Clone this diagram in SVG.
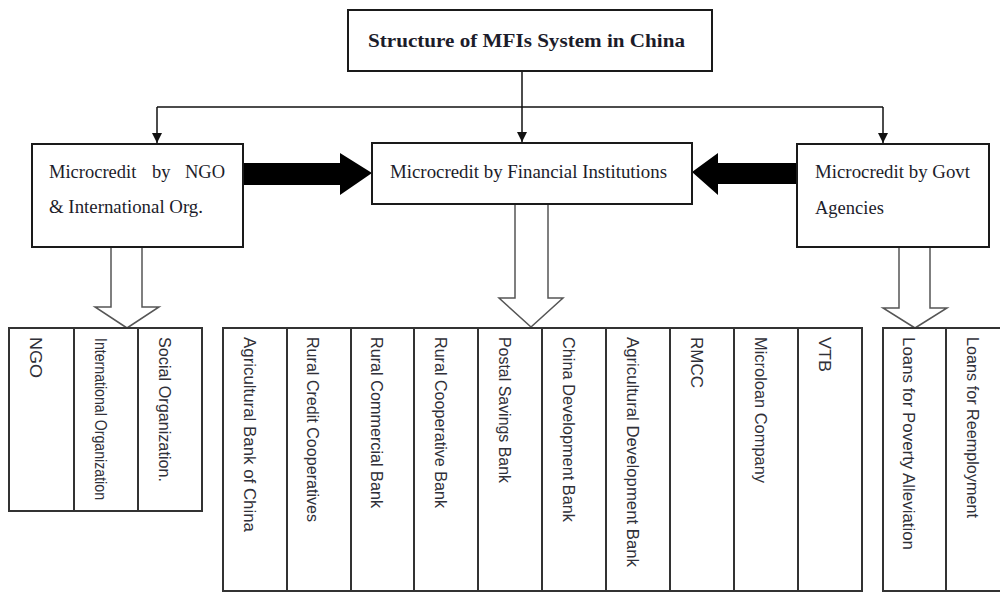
<svg xmlns="http://www.w3.org/2000/svg" width="1000" height="592" viewBox="0 0 1000 592">
<defs>
<marker id="ah" markerUnits="userSpaceOnUse" markerWidth="10" markerHeight="10" refX="10" refY="5" orient="auto" viewBox="0 0 10 10"><path d="M0,0 L10,5 L0,10 z" fill="#111"/></marker>
</defs>
<style>
.box{fill:#fff;stroke:#1a1a1a;stroke-width:2}
.col{fill:#fff;stroke:#333;stroke-width:2}
.serif{font-family:"Liberation Serif","Times New Roman",serif;fill:#1c1c2a;font-size:18.5px}
.sans{font-family:"Liberation Sans",Arial,sans-serif;font-size:16px;fill:#303038}
.line{stroke:#111;stroke-width:1.5;fill:none}
.hollow{fill:#fff;stroke:#555;stroke-width:1.5}
.solid{fill:#000}
</style>
<rect width="1000" height="592" fill="#fff"/>
<g id="connectors">
<path class="line" d="M522,71 V142" marker-end="url(#ah)"/>
<path class="line" d="M157,107 H883"/>
<path class="line" d="M157,107 V143" marker-end="url(#ah)"/>
<path class="line" d="M883,107 V143" marker-end="url(#ah)"/>
<polygon class="solid" points="243,163 340,163 340,153 372,173 340,195 340,185 243,185"/>
<polygon class="solid" points="797,163 718,163 718,153 692,172 718,195 718,184 797,184"/>
<polygon class="hollow" points="111,247 142,247 142,307 159,307 127,328 95,307 111,307"/>
<polygon class="hollow" points="515,204 548,204 548,298 563,298 531,327 499,298 515,298"/>
<polygon class="hollow" points="899,247 930,247 930,308 947,308 915,328 883,308 899,308"/>
</g>
<g id="title">
<rect class="box" x="348" y="10" width="364" height="61"/>
<text class="serif" x="368" y="47" font-weight="bold" font-size="21" textLength="317" lengthAdjust="spacingAndGlyphs">Structure of MFIs System in China</text>
</g>
<g id="ngo-intl">
<rect class="box" x="32" y="144" width="211" height="103"/>
<text class="serif"><tspan x="49" y="178">Microcredit</tspan> <tspan x="152" y="178">by</tspan> <tspan x="185" y="178">NGO</tspan></text>
<text class="serif" x="49" y="213" textLength="154" lengthAdjust="spacingAndGlyphs">&amp; International Org.</text>
</g>
<g id="financial">
<rect class="box" x="372" y="143" width="320" height="61"/>
<text class="serif" x="390" y="178" textLength="277" lengthAdjust="spacingAndGlyphs">Microcredit by Financial Institutions</text>
</g>
<g id="govt">
<rect class="box" x="797" y="144" width="192" height="103"/>
<text class="serif" x="815" y="178" textLength="155" lengthAdjust="spacingAndGlyphs">Microcredit by Govt</text>
<text class="serif" x="815" y="214">Agencies</text>
</g>
<g id="ngo-list">
<g id="c-ngo"><rect class="col" x="9" y="328" width="65" height="183"/><text class="sans" x="30" y="337" transform="rotate(90 30 337)" textLength="41" lengthAdjust="spacingAndGlyphs">NGO</text></g>
<g id="c-intl"><rect class="col" x="74" y="328" width="64" height="183"/><text class="sans" x="95" y="338" font-size="14" transform="rotate(90 95 338)" textLength="162" lengthAdjust="spacingAndGlyphs">International Organization</text></g>
<g id="c-social"><rect class="col" x="138" y="328" width="64" height="183"/><text class="sans" x="159" y="337" transform="rotate(90 159 337)" textLength="145" lengthAdjust="spacingAndGlyphs">Social Organization.</text></g>
</g>
<g id="fin-list">
<g id="c-abc"><rect class="col" x="223" y="328" width="64" height="263"/><text class="sans" x="244" y="337" transform="rotate(90 244 337)" textLength="195" lengthAdjust="spacingAndGlyphs">Agricultural Bank of China</text></g>
<g id="c-rcc"><rect class="col" x="287" y="328" width="64" height="263"/><text class="sans" x="307" y="337" transform="rotate(90 307 337)" textLength="185" lengthAdjust="spacingAndGlyphs">Rural Credit Cooperatives</text></g>
<g id="c-rcb"><rect class="col" x="351" y="328" width="63" height="263"/><text class="sans" x="371" y="337" transform="rotate(90 371 337)" textLength="171" lengthAdjust="spacingAndGlyphs">Rural Commercial Bank</text></g>
<g id="c-rcob"><rect class="col" x="414" y="328" width="64" height="263"/><text class="sans" x="435" y="337" transform="rotate(90 435 337)" textLength="171" lengthAdjust="spacingAndGlyphs">Rural Cooperative Bank</text></g>
<g id="c-psb"><rect class="col" x="478" y="328" width="64" height="263"/><text class="sans" x="499" y="337" transform="rotate(90 499 337)" textLength="146" lengthAdjust="spacingAndGlyphs">Postal Savings Bank</text></g>
<g id="c-cdb"><rect class="col" x="542" y="328" width="64" height="263"/><text class="sans" x="563" y="337" transform="rotate(90 563 337)" textLength="185" lengthAdjust="spacingAndGlyphs">China Development Bank</text></g>
<g id="c-adb"><rect class="col" x="606" y="328" width="64" height="263"/><text class="sans" x="627" y="337" transform="rotate(90 627 337)" textLength="230" lengthAdjust="spacingAndGlyphs">Agricultural Development Bank</text></g>
<g id="c-rmcc"><rect class="col" x="670" y="328" width="64" height="263"/><text class="sans" x="691" y="337" transform="rotate(90 691 337)" textLength="51" lengthAdjust="spacingAndGlyphs">RMCC</text></g>
<g id="c-mlc"><rect class="col" x="734" y="328" width="64" height="263"/><text class="sans" x="755" y="337" transform="rotate(90 755 337)" textLength="146" lengthAdjust="spacingAndGlyphs">Microloan Company</text></g>
<g id="c-vtb"><rect class="col" x="798" y="328" width="64" height="263"/><text class="sans" x="819" y="337" transform="rotate(90 819 337)" textLength="35" lengthAdjust="spacingAndGlyphs">VTB</text></g>
</g>
<g id="govt-list">
<g id="c-lpa"><rect class="col" x="883" y="328" width="63" height="263"/><text class="sans" x="903" y="337" transform="rotate(90 903 337)" textLength="213" lengthAdjust="spacingAndGlyphs">Loans for Poverty Alleviation</text></g>
<g id="c-lre"><rect class="col" x="946" y="328" width="64" height="263"/><text class="sans" x="967" y="337" transform="rotate(90 967 337)" textLength="181" lengthAdjust="spacingAndGlyphs">Loans for Reemployment</text></g>
</g>
</svg>
